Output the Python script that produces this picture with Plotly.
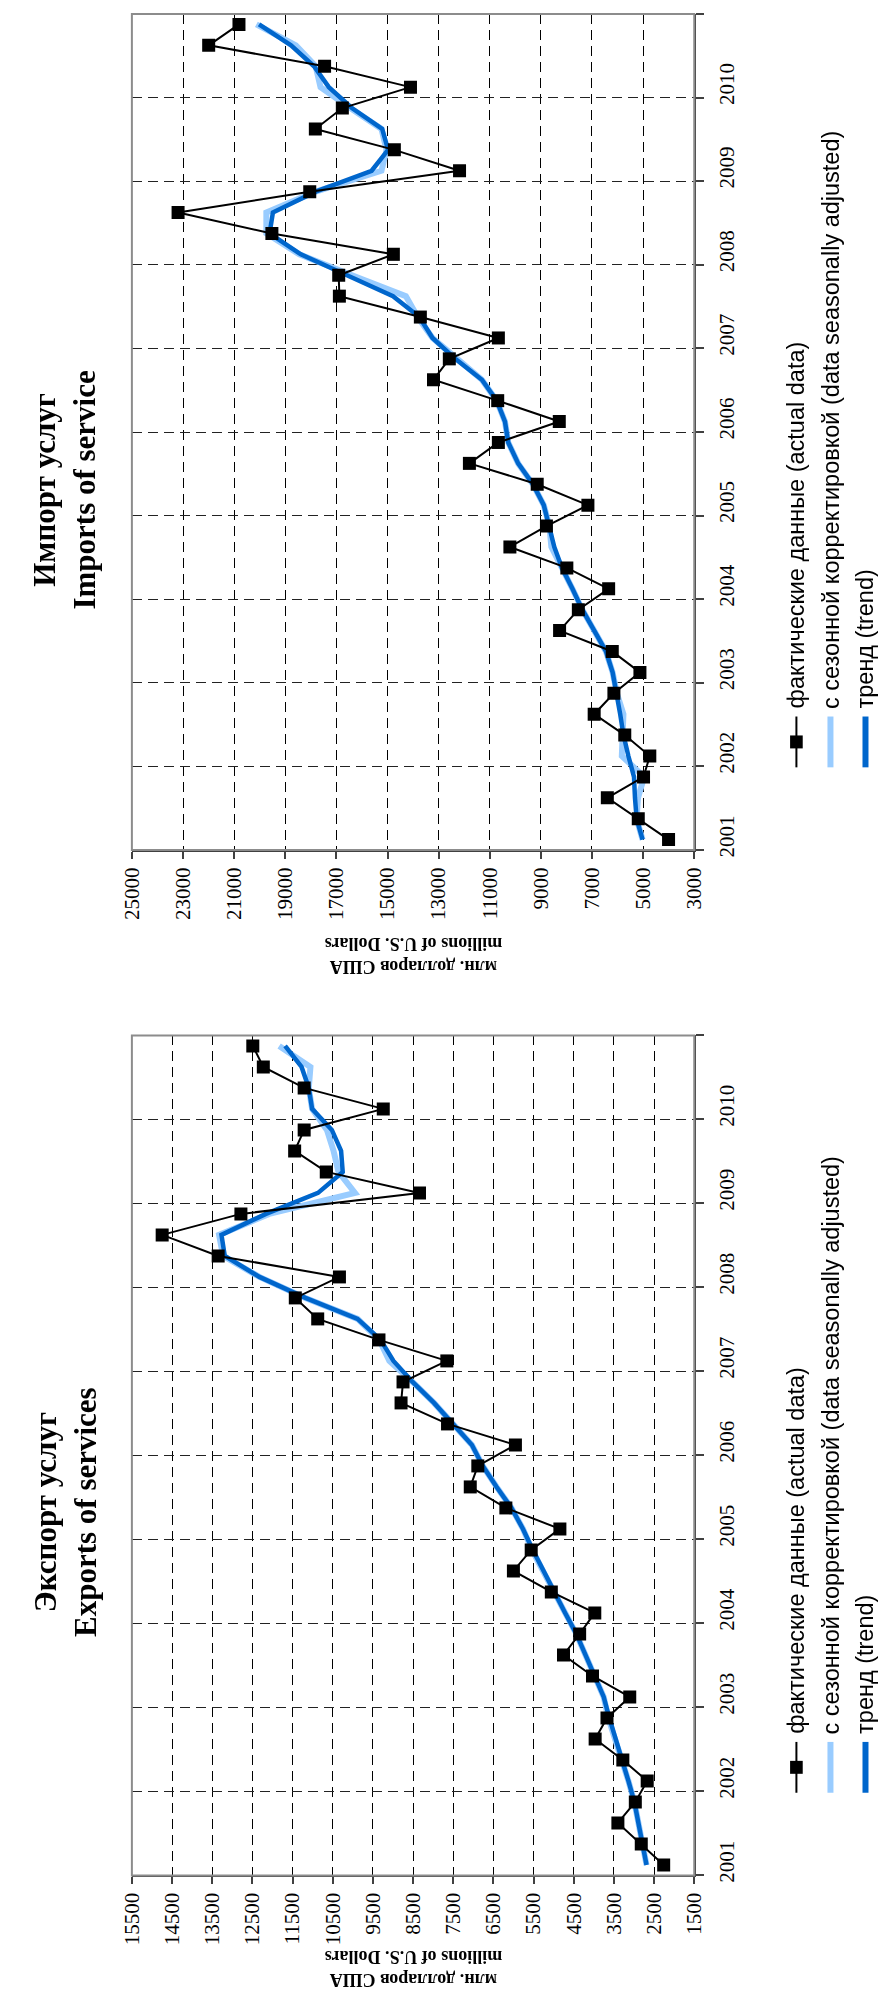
import plotly.graph_objects as go

W, H = 887, 2004

# ---------------- data ----------------
years = [2001, 2002, 2003, 2004, 2005, 2006, 2007, 2008, 2009, 2010]
quarters = [1, 2, 3, 4]

# Imports of services, millions of U.S. dollars (quarterly, 2001Q1..2010Q4)
imp_actual = [4005, 5190, 6400, 4984, 4739, 5718, 6915, 6143, 5125, 6207,
              8268, 7534, 6349, 7984, 10212, 8783, 7160, 9143, 11796, 10663,
              8280, 10689, 13200, 12582, 10663, 13715, 16883, 16909, 14771, 19523,
              23193, 18042, 12182, 14732, 17823, 16767, 14101, 17462, 21996, 20811]
imp_sa = [5022, 5254, 5200, 4960, 5834, 5800, 5770, 6027, 6194, 6452,
          6928, 7379, 7765, 8177, 8590, 8667, 8886, 9311, 9890, 10277,
          10405, 10727, 11307, 12273, 13239, 13820, 14282, 16390, 18450, 19740,
          19740, 17810, 15235, 15040, 15235, 16458, 17620, 17810, 18583, 20130]
imp_trend = [5022, 5254, 5319, 5357, 5576, 5769, 5898, 6027, 6194, 6452,
             6928, 7379, 7765, 8177, 8474, 8667, 8886, 9311, 9890, 10277,
             10405, 10727, 11307, 12350, 13239, 13754, 14784, 16587, 18390, 19613,
             19484, 17810, 15621, 14977, 15209, 16394, 17295, 17875, 18776, 20025]

# Exports of services, millions of U.S. dollars
exp_actual = [2261, 2819, 3401, 2967, 2671, 3278, 3967, 3672, 3106, 4033,
              4755, 4353, 3976, 5058, 6002, 5559, 4845, 6190, 7076, 6888,
              5952, 7642, 8799, 8750, 7659, 9349, 10874, 11432, 10333, 13352,
              14746, 12786, 8340, 10661, 11448, 11211, 9242, 11211, 12228, 12490]
exp_sa = [2688, 2794, 2893, 2991, 3139, 3303, 3451, 3640, 3754, 3976,
          4205, 4435, 4714, 4985, 5272, 5540, 5764, 6051, 6420, 6765,
          7035, 7503, 7979, 8512, 9090, 9340, 9882, 11180, 12326, 13230,
          13330, 12080, 9947, 10357, 10480, 10645, 11014, 11096, 11055, 11834]
exp_trend = [2688, 2794, 2893, 2991, 3139, 3303, 3451, 3615, 3754, 3976,
             4205, 4435, 4714, 4985, 5272, 5518, 5764, 6051, 6420, 6765,
             7035, 7503, 7979, 8512, 8988, 9307, 9882, 11180, 12326, 13188,
             13270, 12162, 10866, 10251, 10292, 10522, 11014, 11096, 11276, 11686]

imp_ticks = [3000, 5000, 7000, 9000, 11000, 13000, 15000, 17000, 19000, 21000, 23000, 25000]
exp_ticks = [1500, 2500, 3500, 4500, 5500, 6500, 7500, 8500, 9500, 10500,
             11500, 12500, 13500, 14500, 15500]

titles = {"imp": ("Импорт услуг", "Imports of service"),
          "exp": ("Экспорт услуг", "Exports of services")}
axis_title = ("млн. долларов США", "millions of U.S. Dollars")
legend_names = ["фактические данные (actual data)",
                "с сезонной корректировкой (data seasonally adjusted)",
                "тренд (trend)"]

# quarter positions on the time axis (category centres inside each year)
t = [y + (q - 0.5) / 4 for y in years for q in quarters]

# ---------------- styling ----------------
SERIF = "Liberation Serif, Times New Roman, serif"
SANS = "Liberation Sans, Arial, sans-serif"
BLACK = "#000000"
LIGHT = "#99CCFF"
DARK = "#0066CC"
AXIS = "#404040"
BORDER = "#8C8C8C"
PLOT_L, PLOT_R = 115, 693


def fx(x):
    return x / W


def fy(y):
    return 1 - y / H


panels = [
    dict(key="imp", top=6, bottom=845, xa="x", ya="y", yl="y3",
         actual=imp_actual, sa=imp_sa, trend=imp_trend, ticks=imp_ticks,
         rng=[25000, 3000], title_dy=58, atitle_dy=106),
    dict(key="exp", top=1031, bottom=1874, xa="x2", ya="y2", yl="y4",
         actual=exp_actual, sa=exp_sa, trend=exp_trend, ticks=exp_ticks,
         rng=[15500, 1500], title_dy=57, atitle_dy=94),
]

fig = go.Figure()
annotations = []
shapes = []

for p in panels:
    fig.add_trace(go.Scatter(x=p["sa"], y=t, mode="lines", xaxis=p["xa"], yaxis=p["ya"],
                             line=dict(color=LIGHT, width=6), showlegend=False,
                             name=legend_names[1]))
    fig.add_trace(go.Scatter(x=p["trend"], y=t, mode="lines", xaxis=p["xa"], yaxis=p["ya"],
                             line=dict(color=DARK, width=4.5), showlegend=False,
                             name=legend_names[2]))
    fig.add_trace(go.Scatter(x=p["actual"], y=t, mode="lines+markers", xaxis=p["xa"],
                             yaxis=p["ya"], line=dict(color=BLACK, width=2),
                             marker=dict(symbol="square", size=13, color=BLACK),
                             showlegend=False, name=legend_names[0]))
    # invisible carrier so that the year-label axis is drawn
    fig.add_trace(go.Scatter(x=p["actual"], y=t, mode="markers", xaxis=p["xa"],
                             yaxis=p["yl"], opacity=0, hoverinfo="skip",
                             showlegend=False))

    xname = "xaxis" if p["xa"] == "x" else "xaxis" + p["xa"][1:]
    yname = "yaxis" if p["ya"] == "y" else "yaxis" + p["ya"][1:]
    ylname = "yaxis" + p["yl"][1:]
    ydom = [fy(p["bottom"]), fy(p["top"])]

    fig.update_layout(**{
        xname: dict(domain=[fx(PLOT_L), fx(PLOT_R)], anchor=p["ya"], range=p["rng"],
                    tickvals=p["ticks"], ticktext=[str(v) for v in p["ticks"]],
                    tickangle=-90, tickfont=dict(family=SERIF, size=21, color=BLACK),
                    showgrid=True, gridcolor="#000000", gridwidth=1.2, griddash="10px,6px",
                    showline=True, linecolor=AXIS, linewidth=2,
                    ticks="outside", ticklen=7, tickcolor=AXIS, tickwidth=1.5,
                    zeroline=False, fixedrange=True),
        yname: dict(domain=ydom, anchor=p["xa"], side="right", range=[years[0], years[-1] + 1],
                    tickvals=years + [years[-1] + 1], showticklabels=False,
                    showgrid=True, gridcolor="#222222", gridwidth=1.2, griddash="10px,6px",
                    showline=True, linecolor=AXIS, linewidth=2,
                    ticks="outside", ticklen=8, tickcolor=AXIS, tickwidth=1.5,
                    zeroline=False, fixedrange=True),
        ylname: dict(overlaying=p["ya"], anchor=p["xa"], side="right",
                     range=[years[0], years[-1] + 1], type="linear",
                     tickvals=[y + 0.125 for y in years], ticktext=[str(y) for y in years],
                     tickangle=-90, tickfont=dict(family=SERIF, size=21, color=BLACK),
                     showgrid=False, showline=False, ticks="", zeroline=False,
                     ticklabelstandoff=18, fixedrange=True),
    })

    # plot-area border
    shapes.append(dict(type="rect", xref=p["xa"] + " domain", yref=p["ya"] + " domain",
                       x0=0, x1=1, y0=0, y1=1, line=dict(color=BORDER, width=2),
                       layer="above"))

    # chart title (rotated)
    l1, l2 = titles[p["key"]]
    cy = (p["top"] + p["bottom"]) / 2 + p["title_dy"]
    annotations.append(dict(text="<b>%s</b><br><b>%s</b>" % (l1, l2), xref="paper", yref="paper",
                            x=fx(46), y=fy(cy), xanchor="center", yanchor="middle",
                            textangle=-90, showarrow=False,
                            font=dict(family=SERIF, size=31, color=BLACK)))
    # value-axis title (upside down)
    annotations.append(dict(text="<b>%s</b><br><b>%s</b>" % axis_title, xref="paper", yref="paper",
                            x=fx((PLOT_L + PLOT_R) / 2), y=fy(p["bottom"] + p["atitle_dy"]),
                            xanchor="center", yanchor="middle", textangle=180,
                            showarrow=False, font=dict(family=SERIF, size=18, color=BLACK)))

    # legend (rotated)
    sym_bot = p["bottom"] - 83
    sym_top = p["bottom"] - 134
    lx = [798, 833, 869]
    for i, name in enumerate(legend_names):
        annotations.append(dict(text=name, xref="paper", yref="paper",
                                x=fx(lx[i]), y=fy(sym_top - 6), xanchor="center",
                                yanchor="bottom", textangle=-90, showarrow=False,
                                font=dict(family=SANS, size=23.5, color=BLACK)))
    shapes.append(dict(type="line", xref="paper", yref="paper", x0=fx(lx[0]), x1=fx(lx[0]),
                       y0=fy(sym_bot), y1=fy(sym_top), line=dict(color=BLACK, width=2)))
    cym = (sym_bot + sym_top) / 2
    shapes.append(dict(type="rect", xref="paper", yref="paper", x0=fx(lx[0] - 6.5),
                       x1=fx(lx[0] + 6.5), y0=fy(cym + 6.5), y1=fy(cym - 6.5),
                       fillcolor=BLACK, line=dict(width=0)))
    shapes.append(dict(type="line", xref="paper", yref="paper", x0=fx(lx[1]), x1=fx(lx[1]),
                       y0=fy(sym_bot), y1=fy(sym_top), line=dict(color=LIGHT, width=6)))
    shapes.append(dict(type="line", xref="paper", yref="paper", x0=fx(lx[2]), x1=fx(lx[2]),
                       y0=fy(sym_bot), y1=fy(sym_top), line=dict(color=DARK, width=6)))

fig.update_layout(width=W, height=H, margin=dict(l=0, r=0, t=0, b=0),
                  paper_bgcolor="white", plot_bgcolor="white", showlegend=False,
                  annotations=annotations, shapes=shapes)

fig.write_html("out.html")
